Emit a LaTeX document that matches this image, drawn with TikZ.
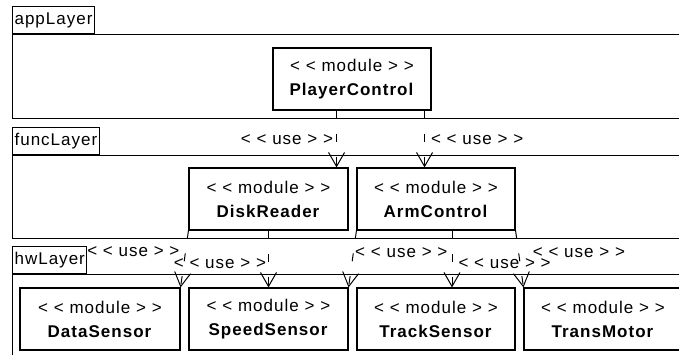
\documentclass[tikz,border=0pt]{standalone}
\usepackage{fontspec}
\setmainfont{Liberation Sans}[LetterSpace=6]
\usepackage{tikz}
\usetikzlibrary{arrows.meta}
\usetikzlibrary{calc}
\tikzset{module/.style={draw, line width=1.1pt, minimum width=158pt, minimum height=62pt, align=center, inner sep=0, font=\fontsize{17}{24}\selectfont}}
\tikzset{layer frame/.style={draw, line width=1.1pt, minimum width=690pt, anchor=north west, inner sep=0}}
\tikzset{layer tab/.style={draw, line width=1.1pt, anchor=south west, minimum height=27pt, inner xsep=2pt, inner ysep=0, font=\fontsize{17}{18}\selectfont}}
\tikzset{use/.style={draw, line width=1pt, dash pattern=on 8pt off 15pt, -{Straight Barb[length=14pt, width=16pt, line width=1pt]}}}
\tikzset{use label/.style={inner sep=0, font=\fontsize{17}{18}\selectfont}}

\begin{document}
\begin{tikzpicture}[x=1pt, y=-1pt]
  \useasboundingbox (0,0) rectangle (679,354);
  \clip (0,0) rectangle (679,354);

  \node[layer frame, minimum height=84pt] at (12, 34) (appFrame) {};
  \node[layer tab] at (appFrame.north west) (appTab) {appLayer};
  \node[layer frame, minimum height=83pt] at (12, 155) (funcFrame) {};
  \node[layer tab] at (funcFrame.north west) (funcTab) {funcLayer};
  \node[layer frame, minimum height=100pt] at (12, 274) (hwFrame) {};
  \node[layer tab] at (hwFrame.north west) (hwTab) {hwLayer};

  \node[module] at (352, 79) (PC) {< < module > >\\\textbf{PlayerControl}};

  \node[module, minimum width=159pt] at (268.5, 199) (DR) {< < module > >\\\textbf{DiskReader}};
  \node[module] at (436, 199) (AC) {< < module > >\\\textbf{ArmControl}};

  \node[module, minimum width=160pt] at (100, 319) (DS) {< < module > >\\\textbf{DataSensor}};
  \node[module, minimum width=159pt] at (268.5, 319) (SS) {< < module > >\\\textbf{SpeedSensor}};
  \node[module] at (436, 319) (TS) {< < module > >\\\textbf{TrackSensor}};
  \node[module] at (603, 319) (TM) {< < module > >\\\textbf{TransMotor}};

    \draw[use] ([xshift=-12pt]DR.north east |- PC.south) -- node[use label, pos=0.6, anchor=base east, xshift=-3pt] {< < use > >} ([xshift=-12pt]DR.north east);
    \draw[use] ([xshift=-7pt]PC.south east) -- node[use label, pos=0.6, anchor=base west, xshift=6pt] {< < use > >} ([xshift=-7pt]PC.south east |- AC.north);

    \draw[use] (DR.south west) -- node[use label, pos=0.45, anchor=base east, xshift=-5pt] {< < use > >} (DS.north east);
    \draw[use] (DR.south -| SS.north) -- node[use label, pos=0.67, anchor=base east, xshift=-2pt] {< < use > >} (SS.north);
    \draw[use] (AC.south west) -- node[use label, pos=0.47, anchor=base west, xshift=2pt] {< < use > >} (SS.north east);
    \draw[use] ([xshift=16pt]AC.south) -- node[use label, pos=0.66, anchor=base west, xshift=6pt] {< < use > >} ([xshift=16pt]TS.north);
    \draw[use] (AC.south east) -- node[use label, pos=0.48, anchor=base west, xshift=13pt] {< < use > >} (TM.north west);
  \end{tikzpicture}
\end{document}
